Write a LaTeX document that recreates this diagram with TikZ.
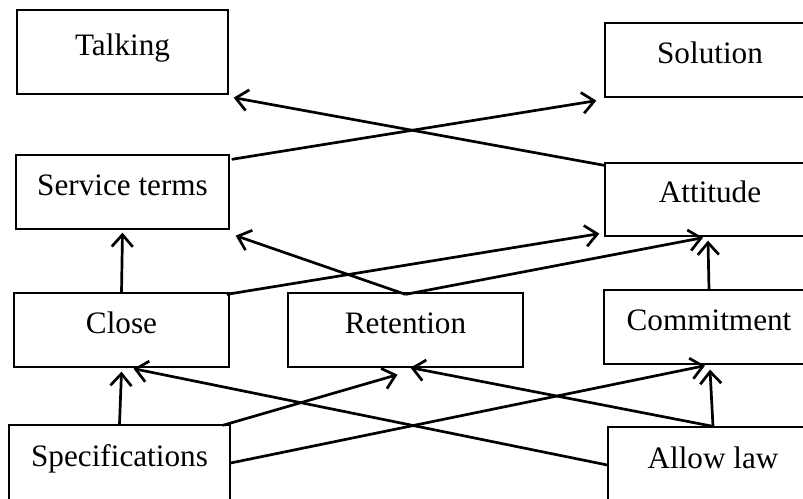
\documentclass[tikz,border=0pt]{standalone}
\usepackage{fontspec}
\setmainfont{Liberation Serif}
\usepackage{tikz}
\usetikzlibrary{positioning,calc,arrows.meta}

\begin{document}
\begin{tikzpicture}[x=1pt, y=-1pt,
    box/.style={draw, line width=1.3pt, inner sep=0pt, minimum height=74pt,
        font=\fontsize{31.2}{37}\selectfont, text height=0.8em, text depth=0.2em},
    link/.style={line width=2.7pt, -{Straight Barb[length=12pt, width=21pt]}}]
    \useasboundingbox (0,0) rectangle (803,498);
    \clip (0,0) rectangle (803,498);

    % Top row
    \node [box, minimum width=211pt, minimum height=84pt] (talk) at (122.5, 52) {Talking};
    \node [box, minimum width=210pt] (sol) at (710, 60) {Solution};

    % Second row
    \node [box, minimum width=213pt] (serv) at (122.5, 192) {Service terms};
    \node [box, minimum width=210pt, minimum height=73pt] (att) at (710, 199.5) {Attitude};

    % Third row
    \node [box, minimum width=215pt] (close) at (121.5, 330) {Close};
    \node [box, minimum width=235pt] (ret) at (405.5, 330) {Retention};
    \node [box, minimum width=210pt] (comm) at (709, 327) {Commitment};

    % Bottom row
    \node [box, minimum width=221pt, minimum height=76pt] (spec) at (119.5, 463) {Specifications};
    \node [box, minimum width=210pt, minimum height=76pt] (allow) at (713, 465) {Allow law};

    % Links
    \draw [link] ($(serv.north east)+(2,5)$) -- ($(sol.south west)+(-8,3)$);
    \draw [link] ($(att.north west)+(0,3)$) -- ($(talk.south east)+(5,3)$);
    \draw [link] (close.north) -- ($(serv.south)+(0,3)$);
    \draw [link] ($(ret.north)+(0,2)$) -- ($(serv.south east)+(6,6)$);
    \draw [link] ($(close.north east)+(-3,2)$) -- ($(att.south west)+(-5,-3)$);
    \draw [link] ($(ret.north)+(0,2)$) -- ($(att.south)+(-7,1)$);
    \draw [link] (comm.north) -- ($(att.south)+(-2,4)$);
    \draw [link] (spec.north) -- ($(close.south)+(0,4)$);
    \draw [link] ($(spec.north east)+(-8,1)$) -- ($(ret.south)+(-8,7)$);
    \draw [link] (spec.east) -- ($(comm.south)+(-4,1)$);
    \draw [link] (allow.west) -- ($(close.south)+(12,1)$);
    \draw [link] (allow.north) -- ($(ret.south)+(5,0)$);
    \draw [link] (allow.north) -- ($(comm.south)+(1,5)$);
\end{tikzpicture}
\end{document}
